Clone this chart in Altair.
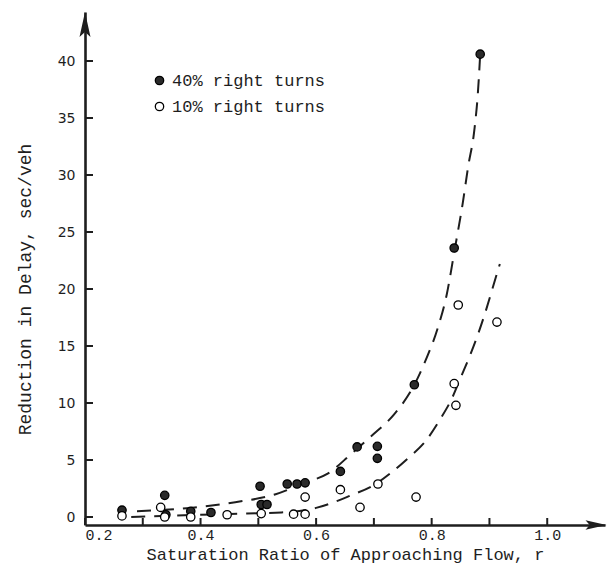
import altair as alt
import pandas as pd

# --- data ---
r40 = [0.264, 0.338, 0.340, 0.383, 0.418, 0.503, 0.505, 0.515, 0.550, 0.567, 0.581, 0.642, 0.671, 0.706, 0.706, 0.770, 0.839, 0.884]
d40 = [0.6, 1.9, 0.2, 0.5, 0.4, 2.7, 1.1, 1.1, 2.9, 2.9, 3.0, 4.0, 6.15, 6.2, 5.15, 11.6, 23.6, 40.6]

r10 = [0.264, 0.331, 0.338, 0.383, 0.446, 0.505, 0.561, 0.581, 0.581, 0.642, 0.676, 0.707, 0.773, 0.839, 0.842, 0.846, 0.913]
d10 = [0.1, 0.85, 0.0, 0.0, 0.2, 0.3, 0.25, 0.25, 1.75, 2.4, 0.85, 2.9, 1.75, 11.7, 9.8, 18.6, 17.1]

curve40_x = [0.29, 0.40, 0.46, 0.53, 0.58, 0.62, 0.66, 0.70, 0.735, 0.77, 0.79, 0.81, 0.826, 0.84, 0.854, 0.863, 0.874, 0.880, 0.884]
curve40_y = [0.5, 0.9, 1.3, 2.0, 3.0, 3.8, 5.5, 7.3, 9.0, 11.6, 13.8, 16.5, 19.5, 23.5, 27.6, 30.7, 34.0, 37.2, 40.6]

curve10_x = [0.28, 0.40, 0.48, 0.54, 0.60, 0.66, 0.70, 0.73, 0.76, 0.79, 0.815, 0.835, 0.85, 0.865, 0.88, 0.895, 0.905, 0.918]
curve10_y = [0.0, 0.2, 0.3, 0.4, 0.8, 1.9, 2.8, 3.9, 5.2, 6.7, 8.6, 10.4, 12.2, 14.0, 16.0, 18.3, 20.0, 22.2]

series_names = ["40% right turns", "10% right turns"]
x_label_values = [0.2, 0.4, 0.6, 0.8, 1.0]
x_tick_values = [0.2, 0.3, 0.4, 0.5, 0.6, 0.7, 0.8, 0.9, 1.0]
y_tick_values = [0, 5, 10, 15, 20, 25, 30, 35, 40]

W, H = 520, 513
MONO = "Liberation Mono"
INK = "#1e1e1e"

pts = pd.DataFrame(
    {"r": r40 + r10, "d": d40 + d10,
     "series": [series_names[0]] * len(r40) + [series_names[1]] * len(r10)}
)
curves = pd.DataFrame(
    {"r": curve40_x + curve10_x, "d": curve40_y + curve10_y,
     "curve": ["a"] * len(curve40_x) + ["b"] * len(curve10_x),
     "order": list(range(len(curve40_x))) + list(range(len(curve10_x)))}
)

xscale = alt.Scale(domain=[0.2, 1.1], nice=False, zero=False)
yscale = alt.Scale(domain=[-0.7, 44.3], nice=False, zero=False)

xaxis = alt.Axis(
    values=x_label_values, format=".1f", ticks=False, grid=False,
    labelFont=MONO, labelFontSize=15, labelColor=INK, labelPadding=2, labelFlush=True,
    domainColor=INK, domainWidth=2.6,
    title="Saturation Ratio of Approaching Flow, r", titleFont=MONO, titleFontSize=17,
    titleFontWeight="normal", titleColor=INK, titlePadding=4,
)
yaxis = alt.Axis(
    values=y_tick_values, ticks=False, grid=False,
    labelFont="DejaVu Sans", labelFontSize=14, labelColor=INK, labelPadding=10,
    domainColor=INK, domainWidth=2.6,
    title="Reduction in Delay, sec/veh", titleFont=MONO, titleFontSize=18,
    titleFontWeight="normal", titleColor=INK,
    titleX=-60, titleY=277, titleAngle=270, titleAlign="center", titleBaseline="middle",
)

lines = alt.Chart(curves).mark_line(
    color=INK, strokeWidth=2, strokeDash=[14, 9], interpolate="monotone"
).encode(
    x=alt.X("r:Q", scale=xscale, axis=xaxis),
    y=alt.Y("d:Q", scale=yscale, axis=yaxis),
    detail="curve:N",
    order="order:Q",
)

points = alt.Chart(pts).mark_point(
    filled=True, size=70, stroke="black", strokeWidth=1.3, opacity=1
).encode(
    x=alt.X("r:Q", scale=xscale),
    y=alt.Y("d:Q", scale=yscale),
    fill=alt.Fill(
        "series:N",
        scale=alt.Scale(domain=series_names, range=["#2a2a2a", "white"]),
        legend=alt.Legend(
            orient="none", legendX=66, legendY=60, title=None, padding=0,
            labelFont=MONO, labelFontSize=17, labelColor=INK, labelOffset=4,
            symbolType="circle", symbolSize=70, symbolStrokeColor="black",
            symbolStrokeWidth=1.3, rowPadding=8,
        ),
    ),
)

xt = alt.Chart(pd.DataFrame({"t": x_tick_values})).mark_rule(color=INK, strokeWidth=2).encode(
    x=alt.X("t:Q", scale=xscale), y=alt.value(H - 7), y2=alt.value(H)
)
yt = alt.Chart(pd.DataFrame({"t": y_tick_values})).mark_rule(color=INK, strokeWidth=2).encode(
    y=alt.Y("t:Q", scale=yscale), x=alt.value(0), x2=alt.value(8)
)

arrow_up = alt.Chart(pd.DataFrame({"k": [0]})).mark_point(
    shape="M0,-1L0.44,1L0,0.6L-0.44,1Z", filled=True, color=INK, size=625, opacity=1
).encode(x=alt.value(0), y=alt.value(12.5))
arrow_right = alt.Chart(pd.DataFrame({"k": [0]})).mark_point(
    shape="M1,0L-1,0.45L-0.6,0L-1,-0.45Z", filled=True, color=INK, size=441, opacity=1
).encode(x=alt.value(W - 9), y=alt.value(H))

chart = alt.layer(lines, xt, yt, points, arrow_up, arrow_right).properties(
    width=W, height=H,
    autosize=alt.AutoSizeParams(type="none"),
    padding={"left": 85, "top": 12, "right": 4, "bottom": 41},
    background="white",
).configure_view(stroke=None)

chart.save("out.html", embed_options={"renderer": "svg", "actions": False})
